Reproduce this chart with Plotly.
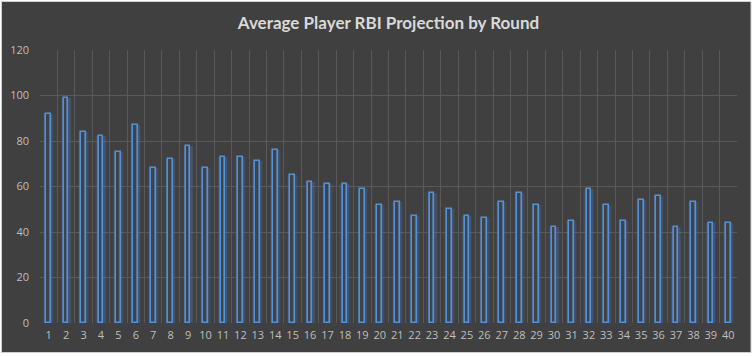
import plotly.graph_objects as go

rounds = [str(i) for i in range(1, 41)]
rbi = [92, 99, 84, 82, 75, 87, 68, 72, 78, 68,
       73, 73, 71, 76, 65, 62, 61, 61, 59, 52,
       53, 47, 57, 50, 47, 46, 53, 57, 52, 42,
       45, 59, 52, 45, 54, 56, 42, 53, 44, 44]
y_ticks = [0, 20, 40, 60, 80, 100, 120]

W, H = 754, 356
L, R, T, B = 40, 17, 50, 33
pw = W - L - R
ph = H - T - B

fig = go.Figure()
# glow layers
for w, op in [(0.64, 0.08), (0.52, 0.12), (0.42, 0.18)]:
    fig.add_trace(go.Bar(x=rounds, y=rbi, width=w,
                         marker=dict(color=f"rgba(70,130,220,{op})", line=dict(width=0)),
                         hoverinfo="skip", showlegend=False))
fig.add_trace(go.Bar(x=rounds, y=rbi, width=0.27,
                     marker=dict(color="#3f4348", line=dict(color="#5591d8", width=1.6)),
                     showlegend=False))

def px_to_paper_x(p):
    return (p - L) / pw

def px_to_paper_y(p):
    return (H - B - p) / ph

fig.add_shape(type="rect", xref="paper", yref="paper",
              x0=px_to_paper_x(1.5), x1=px_to_paper_x(751),
              y0=px_to_paper_y(352.5), y1=px_to_paper_y(1.5),
              fillcolor="#404040", line=dict(color="#d0d0d0", width=1), layer="below")

fig.update_layout(
    width=W, height=H,
    margin=dict(l=L, r=R, t=T, b=B),
    paper_bgcolor="#ffffff", plot_bgcolor="rgba(0,0,0,0)",
    barmode="overlay",
    title=dict(text="Average Player RBI Projection by Round", x=0.5, xref="paper",
               y=1 - 23 / H, yanchor="middle",
               font=dict(family="Lato", size=17, color="#d9d9d9", weight="bold")),
    xaxis=dict(type="category", range=[-0.5, 39.5], tickson="boundaries",
               showgrid=True, gridcolor="#595959", gridwidth=1,
               ticks="", showline=False, zeroline=False, tickangle=0, automargin=False,
               ticklabelstandoff=4,
               tickfont=dict(family="Open Sans", size=11, color="#bfbfbf")),
    yaxis=dict(range=[0, 120], tickvals=y_ticks, showgrid=True, gridcolor="#595959",
               gridwidth=1, zeroline=False, showline=False, ticks="", automargin=False,
               ticklabelstandoff=10,
               tickfont=dict(family="Open Sans", size=11, color="#bfbfbf")),
    bargap=0,
)

fig.write_html("out.html", config={"displayModeBar": False},
               post_script="document.body.style.margin='0';document.body.style.overflow='hidden';")
